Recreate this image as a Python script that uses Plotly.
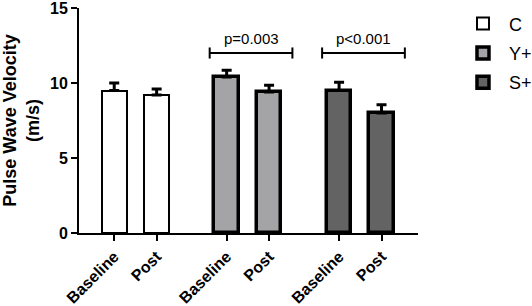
import plotly.graph_objects as go

# ---- data ----
groups = ["C", "Y+", "S+"]
timepoints = ["Baseline", "Post"]
means_C = [9.5, 9.2]
err_C = [0.5, 0.4]
means_Y = [10.4, 9.4]
err_Y = [0.45, 0.45]
means_S = [9.5, 8.0]
err_S = [0.55, 0.55]
p_labels = ["p=0.003", "p<0.001"]
p_groups = [1, 2]          # which groups get a bracket
bracket_y = 12.0
y_ticks = [0, 5, 10, 15]

# ---- style / layout ----
FONT = "Arial, Liberation Sans, sans-serif"
fills = ["#ffffff", "#a4a4a7", "#636363"]
line_w = [2, 3.5, 3.5]
GROUP_GAP = 2.65
BAR_W = 0.58

means = [means_C, means_Y, means_S]
errs = [err_C, err_Y, err_S]

def xpos(g, i):
    return g * GROUP_GAP + i

fig = go.Figure()
tickvals, ticktext = [], []
for g, name in enumerate(groups):
    xs = [xpos(g, i) for i in range(len(timepoints))]
    tickvals += xs
    ticktext += timepoints
    fig.add_trace(go.Bar(
        x=xs, y=means[g], name=name, width=BAR_W,
        marker=dict(color=fills[g], line=dict(color="black", width=line_w[g])),
        error_y=dict(type="data", array=errs[g], arrayminus=[0] * len(errs[g]),
                     symmetric=False, color="black", thickness=3, width=5),
        legendgroup=name,
    ))

# significance brackets
for lbl, g in zip(p_labels, p_groups):
    x0 = xpos(g, 0) - 0.4
    x1 = xpos(g, 1) + 0.55
    fig.add_shape(type="line", x0=x0, x1=x1, y0=bracket_y, y1=bracket_y,
                  line=dict(color="black", width=2))
    for xx in (x0, x1):
        fig.add_shape(type="line", x0=xx, x1=xx, y0=bracket_y - 0.37, y1=bracket_y + 0.37,
                      line=dict(color="black", width=2))
    fig.add_annotation(x=(x0 + x1) / 2, y=bracket_y, text=lbl, showarrow=False,
                       yanchor="bottom", yshift=4, font=dict(family=FONT, size=15, color="black"))

fig.update_layout(
    width=532, height=306, autosize=False,
    margin=dict(l=79, r=114, t=8, b=73, autoexpand=False),
    plot_bgcolor="white", paper_bgcolor="white",
    showlegend=True,
    legend=dict(x=1.115, y=1.012, xanchor="left", yanchor="top",
                font=dict(family=FONT, size=18, color="black"),
                tracegroupgap=3, itemwidth=42, bgcolor="rgba(0,0,0,0)"),
    font=dict(family=FONT, color="black"),
    bargap=0,
)
fig.update_xaxes(
    range=[-0.83, xpos(2, 1) + 0.86], automargin=False,
    tickmode="array", tickvals=tickvals, ticktext=[f"<b>{t}</b>" for t in ticktext],
    tickangle=-45, tickfont=dict(family=FONT, size=16, color="black"),
    ticklabeloverflow="allow",
    showline=True, linecolor="black", linewidth=2,
    ticks="outside", ticklen=6, tickwidth=2, tickcolor="black",
    showgrid=False, zeroline=False,
)
fig.update_yaxes(
    range=[0, 15.0001], automargin=False, tickmode="array", tickvals=y_ticks,
    ticktext=[f"<b>{v}</b>" for v in y_ticks],
    tickfont=dict(family=FONT, size=16, color="black"),
    ticklabeloverflow="allow",
    showline=True, linecolor="black", linewidth=2,
    ticks="outside", ticklen=6, tickwidth=2, tickcolor="black",
    showgrid=False, zeroline=False,
    title=dict(text="<b>Pulse Wave Velocity<br>(m/s)</b>",
               font=dict(family=FONT, size=18, color="black"), standoff=8),
)

fig.write_html("out.html", config={"displayModeBar": False},
               post_script="document.body.style.margin='0';")
